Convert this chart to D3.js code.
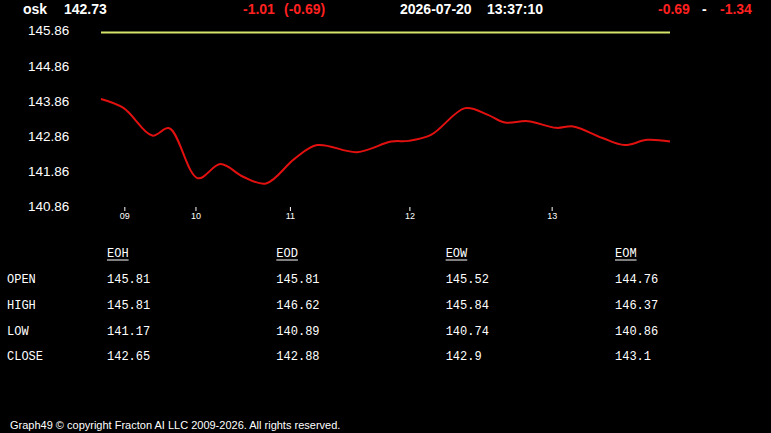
<!DOCTYPE html>
<html><head><meta charset="utf-8">
<script src="https://cdn.jsdelivr.net/npm/d3@7"></script>
<style>
html,body{margin:0;padding:0;background:#000;}
svg{display:block;}
</style></head>
<body>
<script>
// ---- data ----
const symbol = "osk";
const lastPrice = "142.73";
const change = "-1.01";
const changePct = "(-0.69)";
const dateStr = "2026-07-20";
const timeStr = "13:37:10";
const rangeA = "-0.69";
const rangeB = "-1.34";
const openLevel = 145.81;
const yTicks = [145.86, 144.86, 143.86, 142.86, 141.86, 140.86];
const sampleIdx = [0, 4, 9, 12, 17, 21, 25, 29, 34, 38, 45, 51, 54, 58, 64, 68, 71, 75, 80, 83, 88, 92, 96, 100];
const prices = [143.92, 143.66, 142.88, 143.09, 141.67, 142.07, 141.71, 141.52, 142.22, 142.61, 142.41, 142.71, 142.73, 142.90, 143.66, 143.47, 143.25, 143.29, 143.10, 143.14, 142.82, 142.61, 142.76, 142.71];
const xTickIdx = [4.1, 16.6, 33.2, 54.2, 79.2];
const xTickLabels = ["09", "10", "11", "12", "13"];
const tableCols = ["EOH", "EOD", "EOW", "EOM"];
const tableRows = ["OPEN", "HIGH", "LOW", "CLOSE"];
const eohVals = ["145.81", "145.81", "141.17", "142.65"];
const eodVals = ["145.81", "146.62", "140.89", "142.88"];
const eowVals = ["145.52", "145.84", "140.74", "142.9"];
const eomVals = ["144.76", "146.37", "140.86", "143.1"];
const footer = "Graph49 \u00A9 copyright Fracton AI LLC 2009-2026. All rights reserved.";

// ---- drawing ----
const W = 771, H = 433;
const svg = d3.select("body").append("svg").attr("width", W).attr("height", H)
  .style("background", "#000");

const x = d3.scaleLinear().domain([0, 100]).range([101, 670]);
const y = d3.scaleLinear().domain([140.86, 145.86]).range([206.7, 30.7]);

const hdr = svg.append("g").attr("font-family", "Arial, 'Liberation Sans', sans-serif")
  .attr("font-weight", "bold").attr("font-size", 14);
hdr.append("text").attr("x", 23).attr("y", 14).attr("fill", "#fff").text(symbol);
hdr.append("text").attr("x", 64).attr("y", 14).attr("fill", "#fff").text(lastPrice);
hdr.append("text").attr("x", 243).attr("y", 14).attr("fill", "#ff2020").text(change);
hdr.append("text").attr("x", 284).attr("y", 14).attr("fill", "#ff2020").text(changePct);
hdr.append("text").attr("x", 400).attr("y", 14).attr("fill", "#fff").text(dateStr);
hdr.append("text").attr("x", 487).attr("y", 14).attr("fill", "#fff").text(timeStr);
hdr.append("text").attr("x", 658).attr("y", 14).attr("fill", "#ff2020").text(rangeA);
hdr.append("text").attr("x", 702).attr("y", 14).attr("fill", "#fff").text("-");
hdr.append("text").attr("x", 720).attr("y", 14).attr("fill", "#ff2020").text(rangeB);

// y labels
svg.append("g").selectAll("text").data(yTicks).join("text")
  .attr("x", 28).attr("y", d => y(d)).attr("dy", "0.35em")
  .attr("font-family", "Arial, 'Liberation Sans', sans-serif").attr("font-size", 13.5)
  .attr("fill", "#fff").text(d => d.toFixed(2));

// open level line
svg.append("line").attr("x1", x(0)).attr("x2", x(100))
  .attr("y1", y(openLevel)).attr("y2", y(openLevel))
  .attr("stroke", "#d6e46c").attr("stroke-width", 2);

// price line
const pts = sampleIdx.map((d, i) => [d, prices[i]]);
svg.append("path").datum(pts)
  .attr("d", d3.line().x(d => x(d[0])).y(d => y(d[1])).curve(d3.curveCatmullRom.alpha(0.5)))
  .attr("fill", "none").attr("stroke", "#e31010").attr("stroke-width", 2);

// x axis
const xa = svg.append("g").attr("transform", "translate(0,207)")
  .call(d3.axisBottom(x).tickValues(xTickIdx).tickFormat((d, i) => xTickLabels[i]).tickSize(4).tickPadding(2));
xa.select(".domain").remove();
xa.selectAll("line").attr("stroke", "#fff");
xa.selectAll("text").attr("fill", "#fff").attr("font-size", 9)
  .attr("font-family", "Arial, 'Liberation Sans', sans-serif");

// table
const colX = d3.scalePoint().domain(tableCols).range([107, 615]);
const rowY = d3.scalePoint().domain(tableRows).range([279, 356]);
const mono = "'Liberation Mono', 'DejaVu Sans Mono', monospace";
const tg = svg.append("g").attr("font-family", mono).attr("font-size", 12).attr("fill", "#fff");
tableCols.forEach(c => {
  tg.append("text").attr("x", colX(c)).attr("y", 253).attr("dy", "0.35em").text(c);
  tg.append("line").attr("x1", colX(c)).attr("x2", colX(c) + c.length * 7.2)
    .attr("y1", 260).attr("y2", 260).attr("stroke", "#fff").attr("stroke-width", 1);
});
tableRows.forEach(r => {
  tg.append("text").attr("x", 7).attr("y", rowY(r)).attr("dy", "0.35em").text(r);
});
const colVals = [eohVals, eodVals, eowVals, eomVals];
tableCols.forEach((c, ci) => {
  tableRows.forEach((r, ri) => {
    tg.append("text").attr("x", colX(c)).attr("y", rowY(r)).attr("dy", "0.35em").text(colVals[ci][ri]);
  });
});

// footer
svg.append("text").attr("x", 10).attr("y", 429)
  .attr("font-family", "Arial, 'Liberation Sans', sans-serif").attr("font-size", 11)
  .attr("fill", "#fff").text(footer);
</script>
</body></html>
